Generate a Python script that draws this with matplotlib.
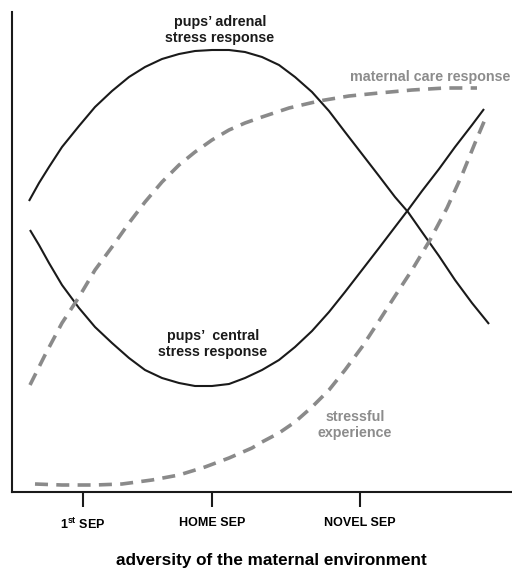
import matplotlib as mpl

mpl.use("Agg")
import matplotlib.pyplot as plt

# Conceptual curves, arbitrary units (x: adversity, y: response level)
adrenal_x = [17, 27, 37, 50, 67, 83, 100, 117, 133, 150, 167, 183, 200, 217, 233, 250,
             267, 283, 300, 317, 333, 350, 367, 383, 396, 410, 427, 443, 460, 477]
adrenal_y = [291, 309, 325, 345, 366, 385, 401, 415, 425, 433, 438, 441, 442, 442, 440, 435,
             427, 415, 400, 381, 360, 338, 316, 295, 280, 260, 236, 212, 189, 168]

central_x = [18, 27, 37, 50, 67, 83, 100, 117, 133, 150, 167, 183, 200, 217, 233, 250,
             267, 283, 300, 317, 333, 350, 367, 383, 396, 410, 427, 443, 460, 472]
central_y = [262, 247, 229, 207, 184, 165, 149, 134, 122, 114, 109, 106, 106, 108, 114, 122,
             132, 145, 161, 180, 200, 222, 244, 265, 282, 301, 323, 345, 367, 383]

care_x = [18, 33, 50, 67, 83, 100, 117, 133, 150, 167, 183, 200, 217, 233, 250,
          277, 307, 337, 367, 400, 433, 465]
care_y = [107, 137, 169, 195, 222, 245, 269, 290, 310, 327, 340, 352, 362, 369, 375,
          384, 391, 396, 399, 402, 404, 404]

stress_x = [23, 50, 83, 110, 140, 167, 193, 217, 240, 250, 267, 283, 300, 317, 333,
            350, 367, 383, 400, 418, 435, 450, 463, 474]
stress_y = [8, 7, 7, 8, 12, 17, 25, 34, 44, 50, 59, 70, 85, 102, 122,
            145, 171, 196, 222, 252, 284, 317, 349, 375]

tick_pos = [71, 200, 348]
tick_labels = [r"1$^{\mathbf{st}}$ SEP", "HOME SEP", "NOVEL SEP"]

plt.rcParams["font.family"] = ["Liberation Sans", "DejaVu Sans"]
plt.rcParams["mathtext.fontset"] = "custom"
plt.rcParams["mathtext.bf"] = "Liberation Sans:bold"
plt.rcParams["mathtext.rm"] = "Liberation Sans:bold"

BLACK = "#1a1a1a"
GRAY = "#8a8a8a"
TXT_GRAY = "#8c8c8c"

fig = plt.figure(figsize=(5.12, 5.70), dpi=100)
ax = fig.add_axes([12 / 512, 78 / 570, 500 / 512, 480 / 570])

ax.plot(adrenal_x, adrenal_y, color=BLACK, lw=1.5, solid_capstyle="butt", solid_joinstyle="round")
ax.plot(central_x, central_y, color=BLACK, lw=1.5, solid_capstyle="butt", solid_joinstyle="round")
ax.plot(care_x, care_y, color=GRAY, lw=2.6, linestyle=(0, (3.6, 2.3)))
ax.plot(stress_x, stress_y, color=GRAY, lw=2.6, linestyle=(0, (3.6, 2.3)))

ax.set_xlim(0, 500)
ax.set_ylim(0, 480)

ax.text(208, 462, "pups\u2019 adrenal\nstress response", ha="center", va="center",
        fontsize=10.3, fontweight="bold", color=BLACK, linespacing=1.1)
ax.text(201, 148, "pups\u2019  central\nstress response", ha="center", va="center",
        fontsize=10.3, fontweight="bold", color=BLACK, linespacing=1.1)
ax.text(498, 415, "maternal care response", ha="right", va="center",
        fontsize=10.3, fontweight="bold", color=TXT_GRAY)
ax.text(343, 67, "stressful\nexperience", ha="center", va="center",
        fontsize=10.3, fontweight="bold", color=TXT_GRAY, linespacing=1.1)

ax.set_xticks(tick_pos)
ax.set_xticklabels(tick_labels, fontsize=9, fontweight="bold")
ax.set_yticks([])
ax.tick_params(axis="x", length=10.8, width=1.5, pad=7, color=BLACK)

ax.set_xlabel("adversity of the maternal environment", fontsize=12.3, fontweight="bold")
ax.xaxis.set_label_coords(0.519, -0.1417)
ax.xaxis.label.set_va("center")

ax.spines["top"].set_visible(False)
ax.spines["right"].set_visible(False)
for s in ("left", "bottom"):
    ax.spines[s].set_linewidth(1.5)
    ax.spines[s].set_color(BLACK)

plt.savefig("out.png", dpi=100)
plt.close()
